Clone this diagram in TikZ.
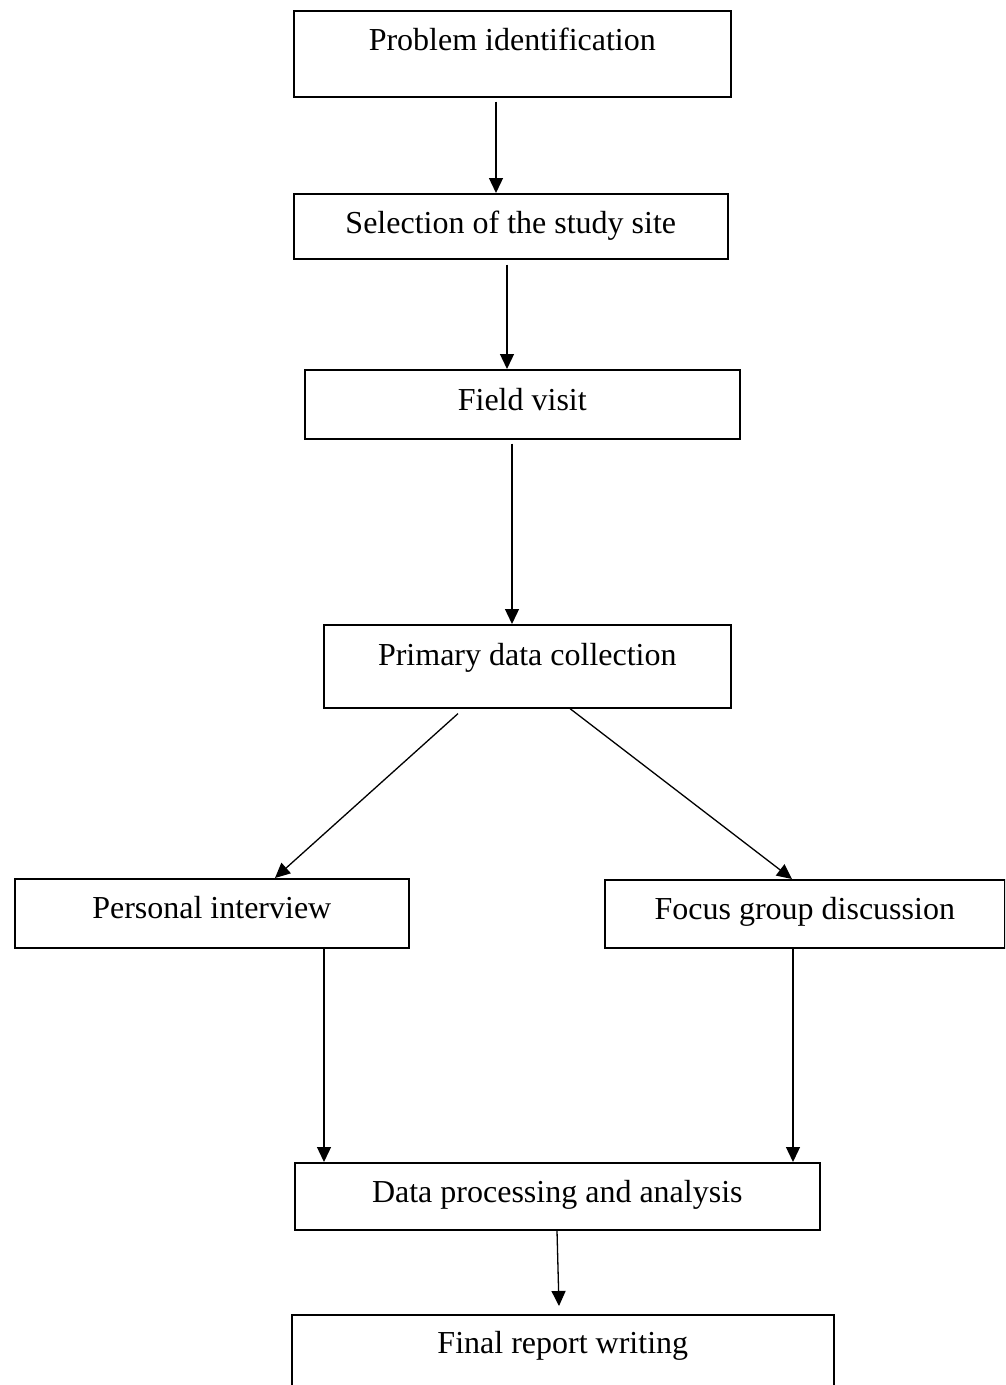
\documentclass[tikz,border=0pt]{standalone}
\usepackage{fontspec}
\setmainfont{Liberation Serif}
\usetikzlibrary{arrows.meta}
\tikzset{
  stagebox/.style={draw, line width=1.6pt, inner xsep=0pt, inner ysep=0pt, anchor=north west, font=\fontsize{32}{38}\selectfont},
  flowarrow/.style={line width=1.3pt, -{Triangle[length=15pt,width=14pt]}}
}
\begin{document}
\begin{tikzpicture}[x=1pt,y=-1pt]
\useasboundingbox (0,0) rectangle (1005,1385);
\clip (0,0) rectangle (1005,1385);
\node[stagebox, minimum width=437pt, text height=40pt, text depth=46pt] (p) at (293,10) {Problem identification};
\node[stagebox, minimum width=434pt, text height=40pt, text depth=25pt] (s) at (293,193) {Selection of the study site};
\node[stagebox, minimum width=435pt, text height=41pt, text depth=28pt] (f) at (304,369) {Field visit};
\node[stagebox, minimum width=407pt, text height=41pt, text depth=42pt] (pd) at (323,624) {Primary data collection};
\node[stagebox, minimum width=394pt, text height=40pt, text depth=29pt] (pi) at (14,878) {Personal interview};
\node[stagebox, minimum width=400pt, text height=40pt, text depth=28pt] (fg) at (604,879) {Focus group discussion};
\node[stagebox, minimum width=525pt, text height=40pt, text depth=27pt] (dp) at (294,1162) {Data processing and analysis};
\node[stagebox, minimum width=542pt, text height=39pt, text depth=120pt] (fr) at (291,1314) {Final report writing};

\draw[flowarrow] ([yshift=-4pt]p.south -| 496,0) -- (s.north -| 496,0);
\draw[flowarrow] ([yshift=-5pt]s.south -| 507,0) -- (f.north -| 507,0);
\draw[flowarrow] ([yshift=-4pt]f.south -| 512,0) -- (pd.north -| 512,0);
\draw[flowarrow] ([yshift=-5pt]pd.south -| 458,0) -- (pi.north -| 275,0);
\draw[flowarrow] (pd.south -| 570,0) -- (fg.north -| 792,0);
\draw[flowarrow] (pi.south -| 324,0) -- (dp.north -| 324,0);
\draw[flowarrow] (fg.south -| 793,0) -- (dp.north -| 793,0);
\draw[flowarrow] (dp.south -| 557,0) -- ([yshift=8pt]fr.north -| 559,0);
\end{tikzpicture}
\end{document}
